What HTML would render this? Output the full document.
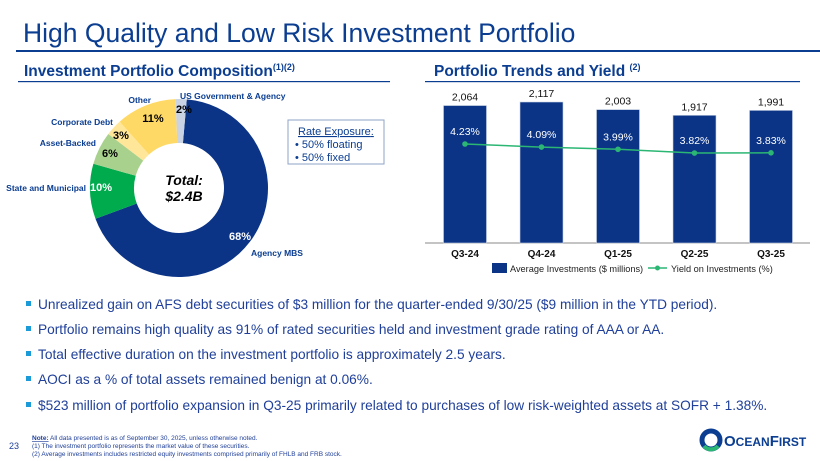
<!DOCTYPE html>
<html><head><meta charset="utf-8"><style>
body{margin:0;width:820px;height:461px;background:#fff;font-family:"Liberation Sans",Arial,sans-serif;overflow:hidden;position:relative}
svg{position:absolute;left:0;top:0}
</style></head><body>
<svg width="820" height="461" viewBox="0 0 820 461">
<text x="23" y="42" font-size="26.5" fill="#0b3d91">High Quality and Low Risk Investment Portfolio</text>
<rect x="16" y="50" width="804" height="2" fill="#0b3d91"/>
<text x="24" y="76" font-size="15.5" font-weight="bold" fill="#0b3d91">Investment Portfolio Composition<tspan font-size="9" dy="-6">(1)(2)</tspan></text>
<rect x="18" y="81" width="372" height="1.2" fill="#0b3d91"/>
<text x="434" y="76" font-size="15.5" font-weight="bold" fill="#0b3d91">Portfolio Trends and Yield <tspan font-size="9" dy="-6">(2)</tspan></text>
<rect x="425" y="81" width="375" height="1.2" fill="#0b3d91"/>
<g id="donut"></g>
<g>
<rect x="288" y="120" width="96" height="44" fill="#fff" stroke="#8fa3c8" stroke-width="1"/>
<text x="298" y="135" font-size="11" fill="#0b3d91" text-decoration="underline">Rate Exposure<tspan text-decoration="none">:</tspan></text>
<text x="295" y="148" font-size="11" fill="#0b3d91">•  50% floating</text>
<text x="295" y="161" font-size="11" fill="#0b3d91">•  50% fixed</text>
</g>
<g id="bars"></g>
<g>
<g font-size="13.7" fill="#1f3f9a">
<rect x="26" y="301" width="5" height="5" fill="#1a9ad6"/><text x="38" y="309">Unrealized gain on AFS debt securities of $3 million for the quarter-ended 9/30/25 ($9 million in the YTD period).</text>
<rect x="26" y="326" width="5" height="5" fill="#1a9ad6"/><text x="38" y="334">Portfolio remains high quality as 91% of rated securities held and investment grade rating of AAA or AA.</text>
<rect x="26" y="351" width="5" height="5" fill="#1a9ad6"/><text x="38" y="359">Total effective duration on the investment portfolio is approximately 2.5 years.</text>
<rect x="26" y="376" width="5" height="5" fill="#1a9ad6"/><text x="38" y="384">AOCI as a % of total assets remained benign at 0.06%.</text>
<rect x="26" y="402" width="5" height="5" fill="#1a9ad6"/><text x="38" y="410">$523 million of portfolio expansion in Q3-25 primarily related to purchases of low risk-weighted assets at SOFR + 1.38%.</text>
</g></g>
<g font-size="6.5" fill="#1f3f9a">
<text x="9" y="449" font-size="9">23</text>
<text x="32" y="440"><tspan font-weight="bold" text-decoration="underline">Note:</tspan> All data presented is as of September 30, 2025, unless otherwise noted.</text>
<text x="32" y="448">(1)    The investment portfolio represents the market value of these securities.</text>
<text x="32" y="456">(2)    Average investments includes restricted equity investments comprised primarily of FHLB and FRB stock.</text>
</g>
<g>
<circle cx="711" cy="440" r="9" fill="none" stroke="#0b3d91" stroke-width="5"/>
<path d="M704 446 A9 9 0 0 0 718 446" fill="none" stroke="#2bb673" stroke-width="4"/>
<text x="724" y="446" font-size="15" font-weight="bold" fill="#0b3d91">O<tspan font-size="12">CEAN</tspan>F<tspan font-size="12">IRST</tspan></text>
</g>
</svg>
<script>
const NS="http://www.w3.org/2000/svg";
function mk(p,t,a){const e=document.createElementNS(NS,t);for(const k in a)e.setAttribute(k,a[k]);p.appendChild(e);return e;}
// donut data
const sliceNames=["Agency MBS","State and Municipal","Asset-Backed","Corporate Debt","Other","US Government & Agency"];
const sliceValues=[68,10,6,3,11,2];
const sliceColors=["#0b3487","#00ab4e","#a9d18e","#ffe699","#ffd966","#c9d3e3"];
const dg=document.getElementById("donut");
const cx=179,cy=188,R=89,r=45;let ang=5;
const tot=sliceValues.reduce((a,b)=>a+b,0);
function pt(rad,deg){const a=(deg-90)*Math.PI/180;return [cx+rad*Math.cos(a),cy+rad*Math.sin(a)];}
sliceValues.forEach((v,i)=>{
 const sw=v/tot*360,a1=ang,a2=ang+sw,lg=sw>180?1:0;
 const [x1,y1]=pt(R,a1),[x2,y2]=pt(R,a2),[x3,y3]=pt(r,a2),[x4,y4]=pt(r,a1);
 const p=mk(dg,"path",{d:`M${x1} ${y1}A${R} ${R} 0 ${lg} 1 ${x2} ${y2}L${x3} ${y3}A${r} ${r} 0 ${lg} 0 ${x4} ${y4}Z`,fill:sliceColors[i]});
 
 
 ang=a2;
});
const pctLabels=[[240,240,"68%","#fff"],[101,191,"10%","#fff"],[110,157,"6%","#000"],[121,139,"3%","#000"],[153,122,"11%","#000"],[184,113,"2%","#000"]];
pctLabels.forEach(l=>{const t=mk(dg,"text",{x:l[0],y:l[1],"font-size":11,"font-weight":"bold",fill:l[3],"text-anchor":"middle"});t.textContent=l[2];
});
const nameLabels=[[251,256,"Agency MBS","start"],[86,191,"State and Municipal","end"],[96,146,"Asset-Backed","end"],[113,125,"Corporate Debt","end"],[151,103,"Other","end"],[180,99,"US Government & Agency","start"]];
nameLabels.forEach(l=>{const t=mk(dg,"text",{x:l[0],y:l[1],"font-size":8.5,"font-weight":"bold",fill:"#0b3d91","text-anchor":l[3]});t.textContent=l[2];
});
let t1=mk(dg,"text",{x:184,y:185,"font-size":14,"font-weight":"bold","font-style":"italic","text-anchor":"middle"});t1.textContent="Total:";

let t2=mk(dg,"text",{x:184,y:201,"font-size":14,"font-weight":"bold","font-style":"italic","text-anchor":"middle"});t2.textContent="$2.4B";

// bar chart data
const quarters=["Q3-24","Q4-24","Q1-25","Q2-25","Q3-25"];
const avgInvest=[2064,2117,2003,1917,1991];
const yieldPct=[4.23,4.09,3.99,3.82,3.83];
const bg=document.getElementById("bars");
const base=243,x0=465,dx=76.5,bw=43;
const xS=i=>x0+i*dx, yB=v=>base-v*0.0666, yL=v=>144+(4.23-v)*22;
let ax=mk(bg,"line",{x1:425,x2:810,y1:base,y2:base,stroke:"#888","stroke-width":1});

avgInvest.forEach((v,i)=>{
 const b=mk(bg,"rect",{x:xS(i)-bw/2,y:yB(v),width:bw,height:base-yB(v),fill:"#0b3487",stroke:"#c9d3e3","stroke-width":0.6});
 
 const t=mk(bg,"text",{x:xS(i),y:yB(v)-5,"font-size":10.5,"text-anchor":"middle",fill:"#111"});t.textContent=v.toLocaleString("en-US");
 
 const c=mk(bg,"text",{x:xS(i),y:257,"font-size":10,"font-weight":"bold","text-anchor":"middle",fill:"#111"});c.textContent=quarters[i];
 
});
let ln=mk(bg,"polyline",{points:yieldPct.map((v,i)=>xS(i)+","+yL(v)).join(" "),fill:"none",stroke:"#2bb673","stroke-width":1.5});

yieldPct.forEach((v,i)=>{
 const c=mk(bg,"circle",{cx:xS(i),cy:yL(v),r:2.8,fill:"#2bb673"});
 
 const t=mk(bg,"text",{x:xS(i),y:yL(v)-9,"font-size":10.5,"text-anchor":"middle",fill:"#fff"});t.textContent=v.toFixed(2)+"%";
 
});
let lr=mk(bg,"rect",{x:492,y:263,width:15,height:10,fill:"#0b3487"});
let lt=mk(bg,"text",{x:510,y:272,"font-size":9.2,fill:"#222"});lt.textContent="Average Investments ($ millions)";
let ll=mk(bg,"line",{x1:648,x2:667,y1:268,y2:268,stroke:"#2bb673","stroke-width":1.5});
let lc=mk(bg,"circle",{cx:657.5,cy:268,r:2.5,fill:"#2bb673"});
let lt2=mk(bg,"text",{x:671,y:272,"font-size":9.2,fill:"#222"});lt2.textContent="Yield on Investments (%)";
</script>
</body></html>
